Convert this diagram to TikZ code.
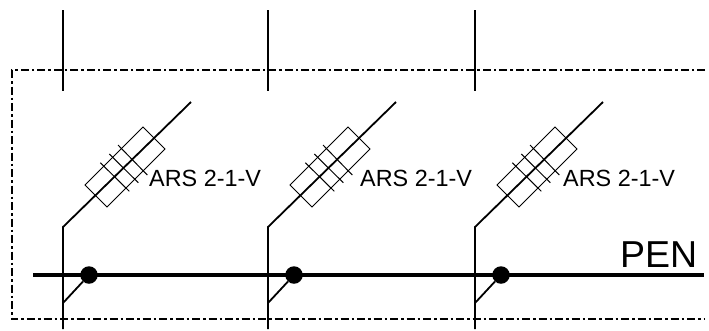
\documentclass[tikz,border=0pt]{standalone}
\usepackage{fontspec}
\setmainfont{Liberation Sans}
\tikzset{
  wire/.style={line width=1.8pt,black},
  busbar/.style={line width=3.8pt,black},
  fusebody/.style={line width=0.8pt,black},
  tick/.style={line width=1pt,black},
  boundary/.style={line width=1.7pt,black,dash pattern=on 8pt off 3pt on 2.5pt off 3pt},
  joint/.style={circle,fill=black,inner sep=0pt,minimum size=17.5pt},
  fuselabel/.style={inner sep=0pt,anchor=base west,font=\fontsize{23.4}{25}\selectfont},
  penlabel/.style={inner sep=0pt,anchor=base west,font=\fontsize{37.5}{39}\selectfont}
}
\begin{document}
\begin{tikzpicture}[x=1pt,y=-1pt]
\useasboundingbox (0,0) rectangle (709,330);
\fill[white] (0,0) rectangle (709,330);
% boundary
\coordinate (bTR) at (705,70);
\coordinate (bTL) at (12,70);
\coordinate (bBL) at (12,319);
\coordinate (bBR) at (705,319);
\draw[boundary] (bTR) -- (bTL) -- (bBL) -- (bBR);
% busbar
\coordinate (penL) at (33,275);
\coordinate (penR) at (704,275);
\draw[busbar] (penL) -- (penR);
\node[penlabel] (pen) at (620,267.5) {PEN};
% columns
\foreach \n/\dx/\lx in {a/0/149,b/205/360,c/412/563}{
  \begin{scope}[xshift=\dx pt]
    \coordinate (\n top) at (63,10);
    \coordinate (\n topend) at (63,91);
    \coordinate (\n knee) at (63,227);
    \coordinate (\n bottom) at (63,329);
    \coordinate (\n tip) at (191,102);
    \coordinate (\n pe) at (63,303);
    \draw[wire] (\n top) -- (\n topend);
    \draw[wire] (\n bottom) -- (\n knee) -- (\n tip);
    \draw[fusebody] (143,127) -- (165,149) -- (107,207) -- (85,185) -- cycle;
    \draw[tick] (118,145) -- (147.3,175);
    \draw[tick] (109.3,154) -- (138.3,182.7);
    \draw[tick] (100.3,162.7) -- (129.3,191.3);
    \node[joint] (\n dot) at (89,275) {};
    \draw[wire] (\n pe) -- (\n dot);
  \end{scope}
  \node[fuselabel] (\n label) at (\lx,186) {ARS 2-1-V};
}
\end{tikzpicture}
\end{document}
